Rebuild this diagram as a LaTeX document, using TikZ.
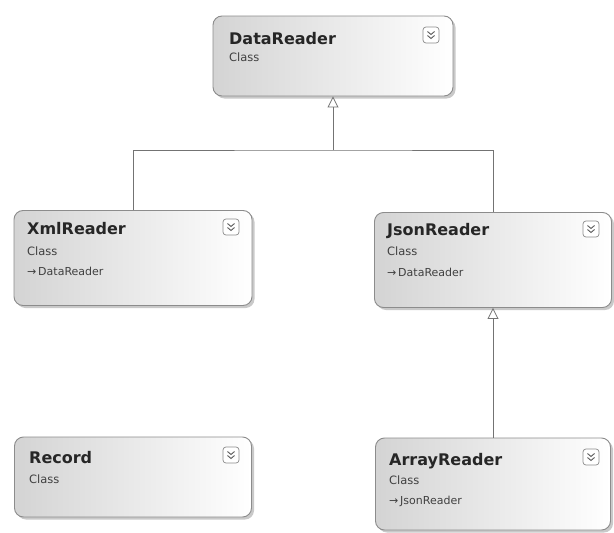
\documentclass[tikz,border=0pt]{standalone}
\usepackage{fontspec}
\setmainfont{DejaVu Sans}
\usetikzlibrary{arrows.meta,shadows}

\tikzset{
  classbox/.style={draw=black!45, line width=0.9pt, rounded corners=9pt,
    left color=black!17, middle color=black!5, right color=white,
    drop shadow={shadow xshift=2.5pt, shadow yshift=-2.5pt, opacity=0.35, fill=black!60}},
  cname/.style={anchor=base west, inner sep=0pt, font=\bfseries\fontsize{16}{18}\selectfont, text=black!85},
  ckind/.style={anchor=base west, inner sep=0pt, font=\fontsize{11.5}{13}\selectfont, text=black!75},
  cbase/.style={anchor=base west, inner sep=0pt, font=\fontsize{11}{13}\selectfont, text=black!75},
  link/.style={draw=black!55, line width=0.8pt},
  inherit/.style={link, -{Triangle[open, width=11pt, length=11pt, line width=0.8pt]}},
  pics/toggle/.style={code={
    \draw[black!45, line width=0.7pt, rounded corners=3pt, fill=white] (-8pt,-8pt) rectangle (8pt,8pt);
    \draw[black!65, line width=0.9pt] (-3.5pt,3.5pt) -- (0pt,0.5pt) -- (3.5pt,3.5pt);
    \draw[black!65, line width=0.9pt] (-3.5pt,-0.5pt) -- (0pt,-3.5pt) -- (3.5pt,-0.5pt);
  }}
}

\begin{document}
\begin{tikzpicture}[x=1pt, y=-1pt]
  \useasboundingbox[fill=white] (0,0) rectangle (614,533);

  % class boxes
  \node[classbox, minimum width=240pt, minimum height=80pt] (dr) at (333,56) {};
  \node[classbox, minimum width=238pt, minimum height=95pt] (xr) at (133,258) {};
  \node[classbox, minimum width=237pt, minimum height=95pt] (jr) at (493,260) {};
  \node[classbox, minimum width=237pt, minimum height=80pt] (rc) at (133,477) {};
  \node[classbox, minimum width=235pt, minimum height=92pt] (ar) at (493,484) {};

  % DataReader
  \node[cname] (dr-name) at (229,44) {DataReader};
  \node[ckind] (dr-kind) at (229,61) {Class};
  \pic at (431,35) {toggle};

  % XmlReader
  \node[cname] (xr-name) at (27,234) {XmlReader};
  \node[ckind] (xr-kind) at (27,255) {Class};
  \node[cbase] (xr-base) at (27,275) {→\,DataReader};
  \pic at (231,227) {toggle};

  % JsonReader
  \node[cname] (jr-name) at (387,235) {JsonReader};
  \node[ckind] (jr-kind) at (387,255) {Class};
  \node[cbase] (jr-base) at (387,276) {→\,DataReader};
  \pic at (591,229) {toggle};

  % Record
  \node[cname] (rc-name) at (29,463) {Record};
  \node[ckind] (rc-kind) at (29,483) {Class};
  \pic at (231,455) {toggle};

  % ArrayReader
  \node[cname] (ar-name) at (389,465) {ArrayReader};
  \node[ckind] (ar-kind) at (389,484) {Class};
  \node[cbase] (ar-base) at (389,504) {→\,JsonReader};
  \pic at (591,457) {toggle};

  % inheritance connectors
  \coordinate (fork) at (333,150);
  \path[link] (xr.north) |- (fork) -| (jr.north);
  \draw[inherit] (fork) -- (dr.south);
  \draw[inherit] (ar.north) -- (jr.south);
\end{tikzpicture}
\end{document}
